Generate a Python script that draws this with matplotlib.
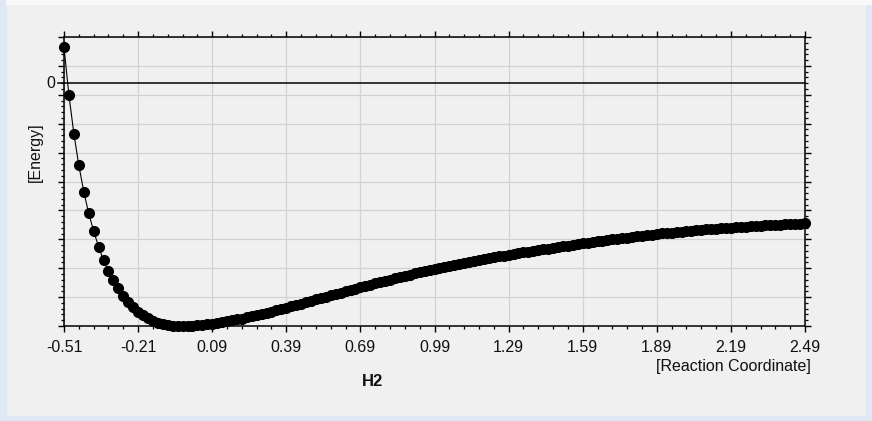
import matplotlib
matplotlib.use("Agg")
import matplotlib.pyplot as plt
import numpy as np
from matplotlib.patches import Rectangle
from matplotlib.ticker import AutoMinorLocator, FixedLocator

plt.rcParams["font.family"] = ["Liberation Sans", "DejaVu Sans"]

# reaction coordinate grid: -0.51 .. 2.49 in steps of 0.02 (151 points)
coord = np.linspace(-0.51, 2.49, 151)

# energies (arbitrary units, 10 per grid line)
energy = [
    12.35, -4.26, -17.54, -28.48, -37.61, -45.09, -51.21, -56.64, -61.35, -65.16,
    -68.27, -71.04, -73.60, -75.88, -77.61, -79.13, -80.38, -81.42, -82.25, -82.94,
    -83.39, -83.74, -83.94, -84.05, -84.08, -84.05, -83.98, -83.84, -83.67, -83.46,
    -83.22, -82.98, -82.72, -82.44, -82.15, -81.83, -81.49, -81.13, -80.76, -80.36,
    -79.97, -79.55, -79.10, -78.65, -78.20, -77.75, -77.28, -76.81, -76.33, -75.84,
    -75.36, -74.88, -74.39, -73.92, -73.44, -72.97, -72.51, -72.04, -71.58, -71.13,
    -70.67, -70.22, -69.78, -69.33, -68.89, -68.46, -68.02, -67.60, -67.17, -66.75,
    -66.33, -65.91, -65.50, -65.09, -64.69, -64.29, -63.91, -63.54, -63.17, -62.82,
    -62.48, -62.14, -61.82, -61.50, -61.19, -60.88, -60.59, -60.29, -60.01, -59.73,
    -59.46, -59.19, -58.91, -58.64, -58.37, -58.10, -57.83, -57.57, -57.30, -57.04,
    -56.78, -56.52, -56.27, -56.01, -55.76, -55.52, -55.28, -55.04, -54.80, -54.57,
    -54.34, -54.12, -53.90, -53.68, -53.46, -53.25, -53.05, -52.84, -52.64, -52.44,
    -52.25, -52.07, -51.90, -51.73, -51.56, -51.40, -51.25, -51.10, -50.96, -50.81,
    -50.67, -50.54, -50.42, -50.29, -50.17, -50.05, -49.94, -49.83, -49.72, -49.61,
    -49.51, -49.40, -49.30, -49.20, -49.11, -49.01, -48.91, -48.82, -48.73, -48.64,
    -48.55,
]

x_ticks = [-0.51, -0.21, 0.09, 0.39, 0.69, 0.99, 1.29, 1.59, 1.89, 2.19, 2.49]
x_tick_labels = ["-0.51", "-0.21", "0.09", "0.39", "0.69", "0.99", "1.29", "1.59", "1.89", "2.19", "2.49"]

y_lo, y_hi = -84.08, 15.92

W, H = 872, 421
fig = plt.figure(figsize=(W / 100, H / 100), dpi=100, facecolor="#f0f0f0")

# window frame strips
fig.patches.append(Rectangle((0, 0), 6 / W, 1, transform=fig.transFigure, color="#dfe9f5", zorder=0))
fig.patches.append(Rectangle((0, 0), 1, 5 / H, transform=fig.transFigure, color="#dfe9f5", zorder=0))
fig.patches.append(Rectangle((1 - 6 / W, 0), 6 / W, 1, transform=fig.transFigure, color="#dfe9f5", zorder=0))
fig.patches.append(Rectangle((6 / W, 1 - 4 / H), 1, 4 / H, transform=fig.transFigure, color="#f8f8f8", zorder=0))

ax = fig.add_axes([64 / W, (H - 326) / H, 741 / W, 289 / H])
ax.set_facecolor("#f0f0f0")

ax.plot(coord, energy, color="black", linewidth=0.8, marker="o", markersize=7.0,
        markerfacecolor="black", markeredgecolor="black", clip_on=False, zorder=3)

# zero line (with its own short tick)
ax.plot([-0.008, 1], [0, 0], color="black", linewidth=1.1,
        transform=ax.get_yaxis_transform(), clip_on=False, zorder=2)
ax.text(-0.012, 0, "0", transform=ax.get_yaxis_transform(), ha="right", va="center",
        fontsize=11.5, color="#111111")

ax.set_xlim(-0.51, 2.49)
ax.set_ylim(y_lo, y_hi)
ax.set_xticks(x_ticks)
ax.set_xticklabels(x_tick_labels)
ax.yaxis.set_major_locator(FixedLocator(np.linspace(y_lo, y_hi, 11)))
ax.set_yticklabels([])
ax.xaxis.set_minor_locator(AutoMinorLocator(5))
ax.yaxis.set_minor_locator(AutoMinorLocator(5))

ax.grid(True, which="major", color="#d2d2d2", linewidth=0.9)
ax.set_axisbelow(True)

for side in ["left", "right", "top", "bottom"]:
    ax.spines[side].set_color("black")
    ax.spines[side].set_linewidth(1.1)

ax.tick_params(which="both", top=True, right=True, direction="out", color="black",
               labelsize=11.5, labelcolor="#111111")
ax.tick_params(which="major", length=4, width=1.0, pad=6)
ax.tick_params(which="minor", length=2.2, width=0.9)

fig.text(35 / W, 1 - 152 / H, "[Energy]", rotation=90, ha="center", va="center",
         fontsize=11.5, color="#111111")
fig.text(811 / W, 1 - 367 / H, "[Reaction Coordinate]", ha="right", va="center",
         fontsize=11.5, color="#111111")
fig.text(372 / W, 1 - 382 / H, "H2", ha="center", va="center",
         fontsize=12, fontweight="bold", color="#111111")

fig.savefig("out.png", dpi=100, facecolor=fig.get_facecolor())
